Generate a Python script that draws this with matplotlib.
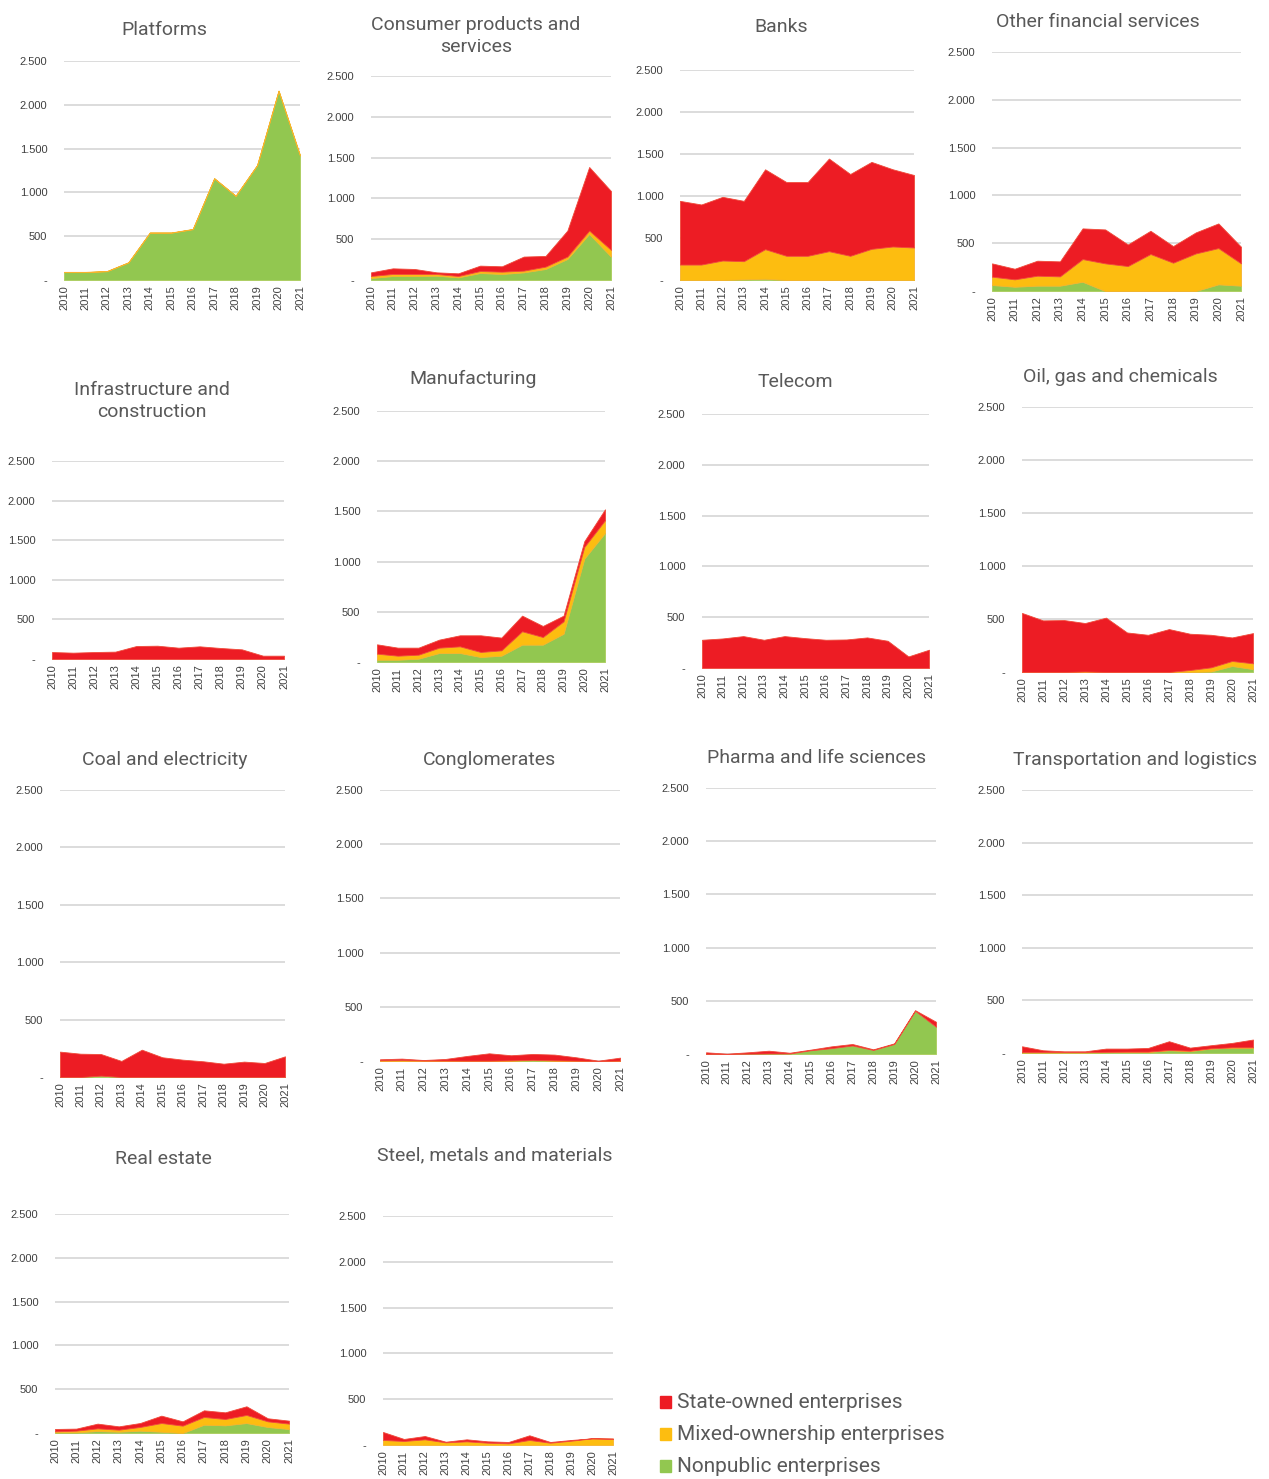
import matplotlib.pyplot as plt
from matplotlib.patches import Rectangle
from matplotlib.ticker import FuncFormatter

years = list(range(2010, 2022))

# values per sector: nonpublic (np), mixed-ownership (mx), state-owned (so)
platforms_np = [90, 90, 100, 200, 540, 540, 580, 1160, 960, 1310, 2160, 1420]
platforms_mx = [3, 3, 3, 3, 3, 3, 3, 3, 3, 3, 3, 3]
platforms_so = [0, 0, 0, 0, 0, 0, 0, 0, 0, 0, 0, 0]

consumer_np = [25, 49, 49, 53, 33, 86, 74, 94, 135, 258, 565, 287]
consumer_mx = [24, 25, 25, 21, 16, 24, 28, 21, 29, 29, 41, 82]
consumer_so = [45, 69, 61, 20, 33, 66, 66, 172, 131, 319, 779, 721]

banks_np = [0, 0, 0, 8, 15, 0, 0, 0, 0, 0, 0, 0]
banks_mx = [184, 184, 232, 216, 352, 288, 288, 343, 288, 371, 399, 387]
banks_so = [758, 715, 758, 718, 951, 878, 878, 1103, 974, 1035, 919, 863]

otherfin_np = [63, 45, 56, 56, 97, 0, 0, 0, 0, 0, 70, 56]
otherfin_mx = [87, 77, 104, 97, 237, 289, 261, 387, 296, 393, 379, 233]
otherfin_so = [139, 111, 157, 157, 321, 355, 226, 243, 174, 220, 258, 174]

infra_np = [0, 0, 0, 0, 0, 0, 0, 0, 0, 0, 0, 0]
infra_mx = [0, 0, 0, 0, 0, 0, 0, 0, 0, 0, 0, 0]
infra_so = [88, 80, 88, 93, 164, 168, 143, 160, 139, 122, 42, 42]

manuf_np = [23, 23, 33, 90, 90, 50, 63, 173, 173, 282, 1030, 1286]
manuf_mx = [60, 40, 40, 53, 66, 50, 53, 133, 76, 123, 116, 126]
manuf_so = [93, 80, 70, 80, 110, 166, 127, 156, 110, 57, 57, 109]

telecom_np = [0, 0, 0, 0, 0, 0, 0, 0, 0, 0, 0, 0]
telecom_mx = [0, 0, 0, 0, 0, 0, 0, 0, 0, 0, 0, 0]
telecom_so = [278, 291, 314, 278, 314, 294, 278, 281, 301, 268, 114, 180]

oil_np = [0, 0, 0, 0, 0, 0, 0, 0, 0, 5, 57, 28]
oil_mx = [0, 0, 0, 5, 0, 0, 0, 0, 19, 39, 47, 54]
oil_so = [557, 487, 490, 457, 513, 373, 351, 405, 342, 307, 222, 285]

coal_np = [0, 0, 12, 0, 0, 0, 0, 0, 0, 0, 0, 0]
coal_mx = [0, 0, 0, 0, 0, 0, 0, 0, 0, 0, 0, 0]
coal_so = [221, 203, 188, 140, 238, 172, 151, 137, 116, 134, 122, 180]

congl_np = [0, 0, 0, 0, 0, 0, 3, 8, 3, 0, 0, 0]
congl_mx = [6, 8, 4, 4, 3, 3, 3, 3, 3, 3, 0, 3]
congl_so = [10, 14, 5, 15, 44, 68, 47, 54, 53, 31, 3, 28]

pharma_np = [0, 0, 3, 5, 5, 35, 55, 80, 38, 94, 406, 256]
pharma_mx = [0, 0, 0, 0, 0, 0, 0, 0, 0, 0, 0, 0]
pharma_so = [16, 3, 13, 26, 7, 6, 17, 14, 6, 6, 6, 47]

transport_np = [5, 5, 5, 5, 8, 10, 10, 26, 19, 42, 51, 51]
transport_mx = [3, 3, 3, 3, 3, 3, 3, 3, 3, 3, 3, 3]
transport_so = [56, 18, 8, 8, 31, 29, 35, 83, 29, 29, 42, 74]

realestate_np = [8, 8, 23, 15, 27, 15, 0, 95, 88, 114, 69, 46]
realestate_mx = [11, 19, 30, 23, 42, 99, 84, 88, 72, 92, 64, 61]
realestate_so = [27, 23, 54, 38, 45, 84, 49, 76, 76, 99, 35, 34]

steel_np = [0, 0, 0, 0, 0, 0, 0, 0, 0, 0, 0, 0]
steel_mx = [55, 44, 62, 29, 40, 25, 18, 55, 25, 47, 73, 69]
steel_so = [87, 22, 36, 7, 22, 15, 15, 51, 8, 8, 0, 0]

legend_labels = ['State-owned enterprises', 'Mixed-ownership enterprises', 'Nonpublic enterprises']

RED, YELLOW, GREEN = '#ED1C24', '#FDBD10', '#92C750'
EDGES = ['#A9CC5A', '#F7B32B', '#F04A3A']
W, H = 1269, 1479

# (title, data, x of 2010, x of 2021, y of 0, y of 2500, title x, title y) in pixels
panels = [
    ('Platforms', (platforms_np, platforms_mx, platforms_so), 64, 300, 280, 61, 164, 30),
    ('Consumer products and\nservices', (consumer_np, consumer_mx, consumer_so), 371, 611, 280, 76, 476, 36),
    ('Banks', (banks_np, banks_mx, banks_so), 680, 914, 280, 70, 781, 27),
    ('Other financial services', (otherfin_np, otherfin_mx, otherfin_so), 992, 1241, 291, 52, 1098, 22),
    ('Infrastructure and\nconstruction', (infra_np, infra_mx, infra_so), 52, 284, 659, 461, 152, 401),
    ('Manufacturing', (manuf_np, manuf_mx, manuf_so), 377, 605, 662, 411, 473, 379),
    ('Telecom', (telecom_np, telecom_mx, telecom_so), 702, 929, 668, 414, 795, 382),
    ('Oil, gas and chemicals', (oil_np, oil_mx, oil_so), 1022, 1253, 672, 407, 1120, 377),
    ('Coal and electricity', (coal_np, coal_mx, coal_so), 60, 285, 1077, 790, 165, 760),
    ('Conglomerates', (congl_np, congl_mx, congl_so), 380, 620, 1061, 790, 490, 760),
    ('Pharma and life sciences', (pharma_np, pharma_mx, pharma_so), 706, 936, 1054, 788, 817, 758),
    ('Transportation and logistics', (transport_np, transport_mx, transport_so), 1022, 1253, 1053, 790, 1135, 760),
    ('Real estate', (realestate_np, realestate_mx, realestate_so), 55, 289, 1433, 1214, 163, 1159),
    ('Steel, metals and materials', (steel_np, steel_mx, steel_so), 383, 613, 1445, 1216, 495, 1155),
]


def fmt(v, pos):
    if v == 0:
        return '-'
    return '{:,.0f}'.format(v).replace(',', '.')


fig = plt.figure(figsize=(W / 100, H / 100), dpi=100)

for title, (np_, mx, so), x0, x1, yb, yt, tx, ty in panels:
    ax = fig.add_axes([x0 / W, 1 - yb / H, (x1 - x0) / W, (yb - yt) / H])
    polys = ax.stackplot(years, np_, mx, so, colors=[GREEN, YELLOW, RED], lw=0.6, zorder=3)
    for p, ec, vals in zip(polys, EDGES, (np_, mx, so)):
        p.set_edgecolor(ec)
        if sum(vals) == 0:
            p.set_linewidth(0)
    ax.set_xlim(2010, 2021)
    ax.set_ylim(0, 2500)
    ax.set_yticks([0, 500, 1000, 1500, 2000, 2500])
    ax.yaxis.set_major_formatter(FuncFormatter(fmt))
    ax.set_xticks(years)
    ax.set_xticklabels([str(y) for y in years], rotation=90)
    ax.grid(axis='y', color='#D9D9D9', lw=1.3, zorder=0)
    ax.set_axisbelow(True)
    for s in ax.spines.values():
        s.set_visible(False)
    ax.tick_params(length=0, labelsize=8, labelcolor='#404040', pad=4)
    ax.tick_params(axis='y', pad=12)
    for lab in ax.get_yticklabels() + ax.get_xticklabels():
        lab.set_family('Liberation Sans')
    fig.text(tx / W, 1 - ty / H, title, ha='center', va='center', fontsize=14,
             color='#595959', family='Roboto', linespacing=1.25)

# legend
for i, (lab, col) in enumerate(zip(legend_labels, [RED, YELLOW, GREEN])):
    yy = 1402 + i * 32
    fig.patches.append(Rectangle((660 / W, 1 - (yy + 6) / H), 11 / W, 12 / H,
                                 transform=fig.transFigure, color=col))
    fig.text(677 / W, 1 - yy / H, lab, ha='left', va='center', fontsize=15,
             color='#595959', family='Roboto')

fig.savefig('out.png', dpi=100)
